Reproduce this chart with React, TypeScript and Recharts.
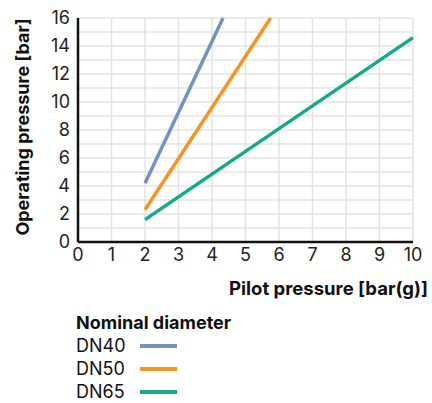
import { CartesianGrid, Line, LineChart, XAxis, YAxis } from 'recharts'

const xTicks = [0, 1, 2, 3, 4, 5, 6, 7, 8, 9, 10]
const yTicks = [0, 1, 2, 3, 4, 5, 6, 7, 8, 9, 10, 11, 12, 13, 14, 15, 16]

const seriesNames = ['DN40', 'DN50', 'DN65']
const seriesColors = ['#7393bd', '#f7931e', '#12aa8a']

// pilot pressure [bar(g)] -> operating pressure [bar]
const dn40 = [
  { x: 2, y: 4.2 },
  { x: 4.33, y: 16 },
]
const dn50 = [
  { x: 2, y: 2.3 },
  { x: 5.75, y: 16 },
]
const dn65 = [
  { x: 2, y: 1.6 },
  { x: 10, y: 14.6 },
]

const seriesData = [dn40, dn50, dn65]

const font = 'Inter, "Noto Sans", sans-serif'

export default function App() {
  return (
    <div
      style={{
        position: 'absolute',
        left: 0,
        top: 0,
        width: 432,
        height: 403,
        background: '#fff',
        fontFamily: font,
        color: '#111',
      }}
    >
      <div style={{ position: 'absolute', left: 0, top: 0 }}>
        <LineChart
          width={432}
          height={266}
          margin={{ top: 18, right: 19, left: 0, bottom: 0 }}
        >
          <CartesianGrid stroke="#e3e3e3" strokeWidth={1.5} />
          <XAxis
            type="number"
            dataKey="x"
            domain={[0, 10]}
            ticks={xTicks}
            interval={0}
            height={24}
            tickSize={0}
            tickMargin={6}
            axisLine={{ stroke: '#111', strokeWidth: 2.5 }}
            tick={{ fill: '#222', fontSize: 18, fontFamily: font }}
          />
          <YAxis
            type="number"
            dataKey="y"
            domain={[0, 16]}
            ticks={yTicks}
            interval={0}
            width={78}
            tickSize={0}
            tickMargin={8}
            tickFormatter={(v: number) => (v % 2 === 0 ? String(v) : '')}
            axisLine={{ stroke: '#111', strokeWidth: 2.5 }}
            tick={{ fill: '#222', fontSize: 18, fontFamily: font }}
          />
          {seriesNames.map((name, i) => (
            <Line
              key={name}
              data={seriesData[i]}
              dataKey="y"
              name={name}
              stroke={seriesColors[i]}
              strokeWidth={3.5}
              dot={false}
              isAnimationActive={false}
            />
          ))}
        </LineChart>
      </div>
      <div
        style={{
          position: 'absolute',
          left: 22,
          top: 127,
          transform: 'translate(-50%, -50%) rotate(-90deg)',
          whiteSpace: 'nowrap',
          fontWeight: 700,
          fontSize: 18,
        }}
      >
        Operating pressure [bar]
      </div>
      <div
        style={{
          position: 'absolute',
          right: 4,
          top: 277,
          fontWeight: 700,
          fontSize: 18.5,
          whiteSpace: 'nowrap',
        }}
      >
        Pilot pressure [bar(g)]
      </div>
      <div style={{ position: 'absolute', left: 76, top: 311, fontSize: 18 }}>
        <div style={{ fontWeight: 700, height: 23, lineHeight: '23px' }}>
          Nominal diameter
        </div>
        {seriesNames.map((name, i) => (
          <div
            key={name}
            style={{ display: 'flex', alignItems: 'center', height: 23 }}
          >
            <span style={{ width: 64 }}>{name}</span>
            <span
              style={{
                display: 'inline-block',
                width: 37,
                height: 4,
                background: seriesColors[i],
              }}
            />
          </div>
        ))}
      </div>
    </div>
  )
}
